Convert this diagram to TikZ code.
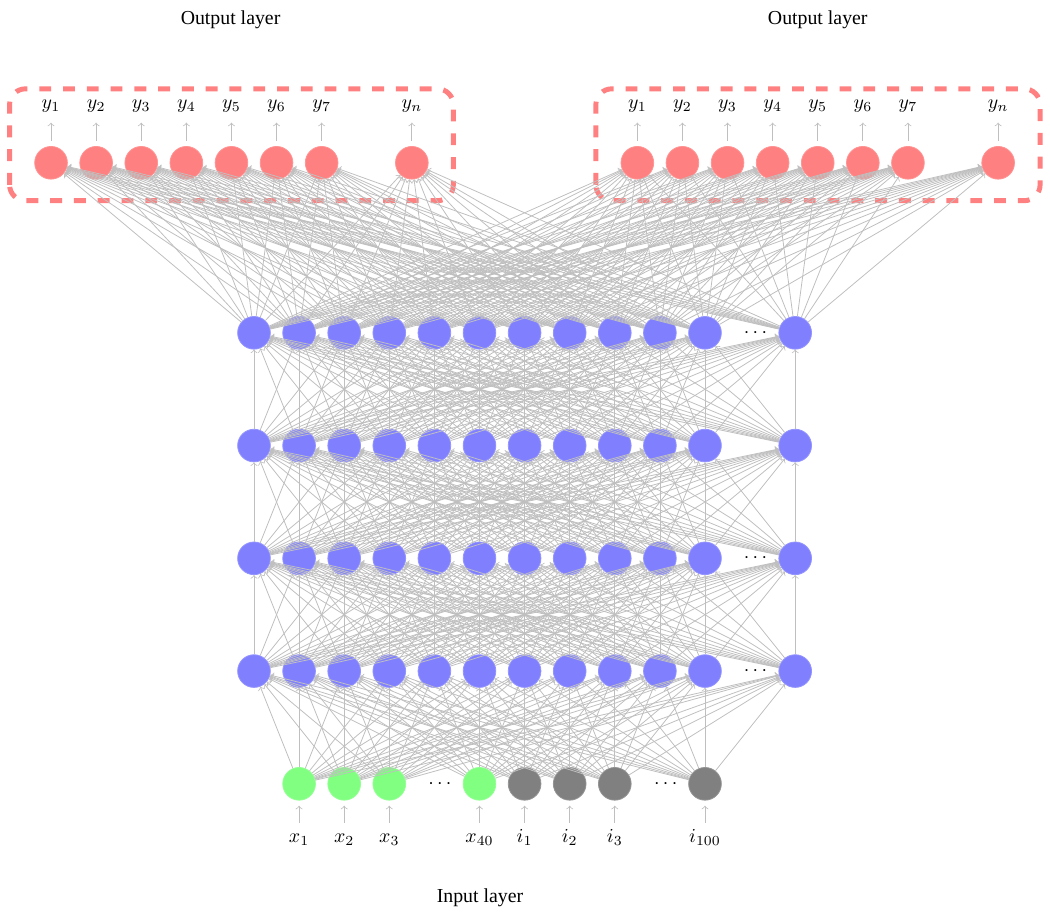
\documentclass[tikz,border=0pt]{standalone}
\usepackage{fontspec}
\setmainfont{Liberation Serif}
\begin{document}
\begin{tikzpicture}[x=0.8cm,y=0.8cm,
  neuron/.style={circle, minimum size=16.5pt, inner sep=0pt, line width=0.4pt},
  hid/.style={neuron, fill=blue!50, draw=blue!42},
  inx/.style={neuron, fill=green!50, draw=green!42},
  ini/.style={neuron, fill=black!50, draw=black!42},
  outn/.style={neuron, fill=red!50, draw=red!42},
  conn/.style={->, draw=gray!50, line width=0.4pt},
  io/.style={->, draw=gray!50, line width=0.4pt},
  lab/.style={inner sep=0pt, anchor=base},
  dotsn/.style={inner sep=0pt},
  box/.style={draw=red!50, line width=2.5pt, dash pattern=on 6pt off 6pt, rounded corners=8pt}]
\useasboundingbox (-5.632,-2.88) rectangle (17.65,17.38);

% hidden layers
\foreach \l/\yy in {1/2.5,2/5,3/7.5,4/10}{
  \foreach \i in {0,1,2,3,4,5,6,7,8,9,10,12}{
    \node[hid] (h\l-\i) at (\i,\yy) {};
  }
}
\node[dotsn] (hd1) at (11.12,2.5) {$\cdots$};
\node[dotsn] (hd2) at (11.12,5) {$\cdots$};
\node[dotsn] (hd4) at (11.12,10) {$\cdots$};

% input layer
\foreach \n/\x/\t in {1/1/x_1,2/2/x_2,3/3/x_3,4/5/x_{40}}{
  \node[inx] (in\n) at (\x,0) {};
  \node[lab] (il\n) at (\x,-1.30) {$\t$};
  \coordinate (it\n) at (\x,-0.865);
  \draw[io, shorten >=2.6pt] (it\n) -- (in\n);
}
\foreach \n/\x/\t in {5/6/i_1,6/7/i_2,7/8/i_3,8/10/i_{100}}{
  \node[ini] (in\n) at (\x,0) {};
  \node[lab] (il\n) at (\x,-1.30) {$\t$};
  \coordinate (it\n) at (\x,-0.865);
  \draw[io, shorten >=2.6pt] (it\n) -- (in\n);
}
\node[dotsn] (id1) at (4.12,0) {$\cdots$};
\node[dotsn] (id2) at (9.13,0) {$\cdots$};
\node[lab] (inlayer) at (5.01,-2.63) {Input layer};

% output layers
\foreach \side/\off in {L/-4.5,R/8.5}{
  \foreach \n/\k/\t in {1/0/y_1,2/1/y_2,3/2/y_3,4/3/y_4,5/4/y_5,6/5/y_6,7/6/y_7,8/8/y_n}{
    \node[outn] (o\side\n) at (\off+\k,13.77) {};
    \node[lab] (ol\side\n) at (\off+\k,14.97) {$\t$};
    \coordinate (ot\side\n) at (\off+\k,14.66);
    \draw[io, shorten <=2.5pt] (o\side\n) -- (ot\side\n);
  }
}
\node[lab] (outlabL) at (-0.52,16.83) {Output layer};
\node[lab] (outlabR) at (12.5,16.83) {Output layer};

\draw[box] (-5.42,12.93) rectangle (4.42,15.41);
\draw[box] (7.58,12.93) rectangle (17.43,15.41);

% connections
\foreach \a in {1,...,8}{
  \foreach \b in {0,1,2,3,4,5,6,7,8,9,10,12}{
    \draw[conn] (in\a) -- (h1-\b);
  }
}
\foreach \l/\m in {1/2,2/3,3/4}{
  \foreach \a in {0,1,2,3,4,5,6,7,8,9,10,12}{
    \foreach \b in {0,1,2,3,4,5,6,7,8,9,10,12}{
      \draw[conn] (h\l-\a) -- (h\m-\b);
    }
  }
}
\foreach \a in {0,1,2,3,4,5,6,7,8,9,10,12}{
  \foreach \b in {1,...,8}{
    \draw[conn] (h4-\a) -- (oL\b);
    \draw[conn] (h4-\a) -- (oR\b);
  }
}
\end{tikzpicture}
\end{document}
